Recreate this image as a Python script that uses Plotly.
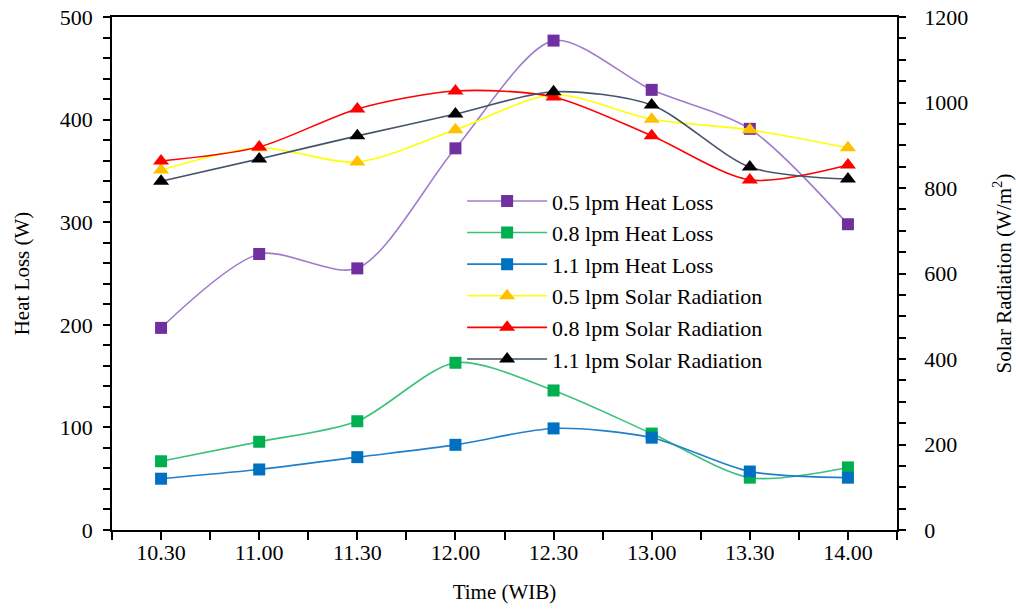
import plotly.graph_objects as go

categories = ["10.30", "11.00", "11.30", "12.00", "12.30", "13.00", "13.30", "14.00"]
heat_05 = [197, 269, 255, 372, 477, 429, 391, 298]
heat_08 = [67, 86, 106, 163, 136, 94, 51, 61]
heat_11 = [50, 59, 71, 83, 99, 90, 57, 51]
solar_05 = [842, 894, 861, 936, 1018, 961, 936, 894]
solar_08 = [863, 896, 985, 1027, 1013, 922, 819, 854]
solar_11 = [816, 868, 922, 973, 1025, 994, 849, 821]

x = list(range(len(categories)))
FONT = "Liberation Serif"

fig = go.Figure()

def add(name, y, line_color, marker_color, symbol, yaxis):
    fig.add_trace(go.Scatter(
        x=x, y=y, name=name, mode="lines+markers", yaxis=yaxis,
        line=dict(color=line_color, width=1.6, shape="spline", smoothing=0.8),
        marker=dict(color=marker_color, symbol=symbol, size=12 if symbol == "square" else 14),
    ))

add("0.5 lpm Heat Loss", heat_05, "#A07CCB", "#7030A0", "square", "y")
add("0.8 lpm Heat Loss", heat_08, "#3CC07A", "#00B050", "square", "y")
add("1.1 lpm Heat Loss", heat_11, "#1F7FCC", "#0070C0", "square", "y")
add("0.5 lpm Solar Radiation", solar_05, "#FFFF00", "#FFC000", "triangle-up", "y2")
add("0.8 lpm Solar Radiation", solar_08, "#FF0000", "#FF0000", "triangle-up", "y2")
add("1.1 lpm Solar Radiation", solar_11, "#44546A", "#000000", "triangle-up", "y2")

fig.update_layout(
    width=1016, height=610,
    margin=dict(l=112, r=119, t=17, b=80, autoexpand=False),
    paper_bgcolor="white", plot_bgcolor="white",
    font=dict(family=FONT, size=22, color="black"),
    xaxis=dict(
        range=[-0.5, 7.5], tickmode="array", tickvals=x, ticktext=categories,
        showline=True, linecolor="black", linewidth=1.5, mirror=True,
        ticks="outside", ticklen=8, tickwidth=2, tickcolor="black",
        minor=dict(tickmode="linear", tick0=0.5, dtick=1, ticks="outside", ticklen=8, tickwidth=2, tickcolor="black"),
        showgrid=False, zeroline=False, ticklabelstandoff=-6,
        automargin=False, ticklabeloverflow="allow",
        title=dict(text="Time (WIB)", font=dict(size=21), standoff=20),
        tickfont=dict(size=22),
    ),
    yaxis=dict(
        range=[0, 500], tickmode="linear", dtick=100,
        showline=True, linecolor="black", linewidth=1.5,
        ticks="outside", ticklen=7, tickwidth=1.5, tickcolor="black",
        minor=dict(tickmode="linear", dtick=20, ticks="outside", ticklen=7, tickwidth=1.5, tickcolor="black"),
        showgrid=False, zeroline=False, ticklabelstandoff=6,
        automargin=False, ticklabeloverflow="allow",
        title=dict(text="Heat Loss (W)", font=dict(size=21), standoff=24),
        tickfont=dict(size=22),
    ),
    yaxis2=dict(
        range=[0, 1200], tickmode="linear", dtick=200, overlaying="y", side="right",
        showline=True, linecolor="black", linewidth=1.5,
        ticks="outside", ticklen=7, tickwidth=1.5, tickcolor="black",
        minor=dict(tickmode="linear", dtick=50, ticks="outside", ticklen=7, tickwidth=1.5, tickcolor="black"),
        showgrid=False, zeroline=False, ticklabelstandoff=14,
        automargin=False, ticklabeloverflow="allow",
        title=dict(text="Solar Radiation (W/m<sup>2</sup>)", font=dict(size=21), standoff=29),
        tickfont=dict(size=22),
    ),
    legend=dict(
        x=0.446, y=0.682, xanchor="left", yanchor="top",
        bgcolor="rgba(0,0,0,0)", font=dict(size=22, family=FONT),
        tracegroupgap=0, itemsizing="trace", itemwidth=80,
    ),
    showlegend=True,
)

fig.write_html("out.html", config={"displayModeBar": False},
               post_script="document.body.style.margin='0';")
